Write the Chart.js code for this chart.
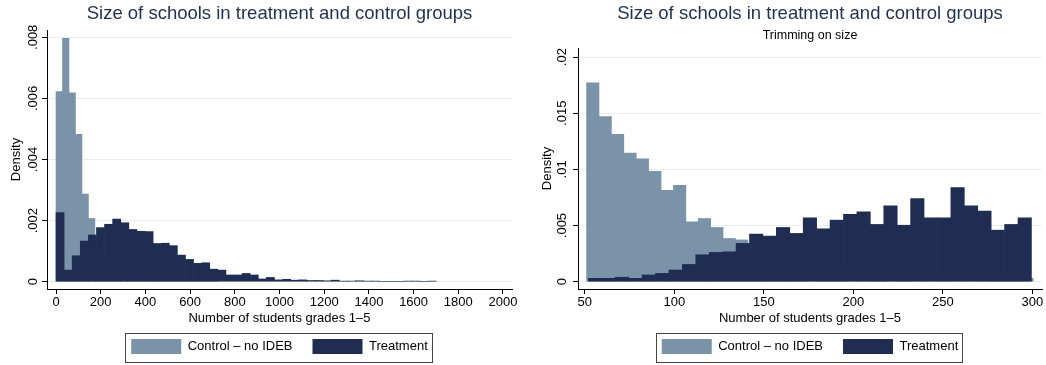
<!DOCTYPE html>
<html>
<head>
<meta charset="utf-8">
<script src="https://cdn.jsdelivr.net/npm/chart.js@4.4.0/dist/chart.umd.min.js"></script>
<style>
  html, body { margin: 0; padding: 0; background: #fff; }
  #wrap { display: flex; width: 1046px; height: 365px; }
  canvas { display: block; }
</style>
</head>
<body>
<div id="wrap">
  <canvas id="left" width="523" height="365"></canvas>
  <canvas id="right" width="523" height="365"></canvas>
</div>
<script>
/* ---- Histogram data (density per bin) ---- */

// Panel 1: all schools. Bins: treatment ~36.2 students wide, control ~29.
const bins1Treat = { start: 0, width: 36.2 };
const bins1Ctrl  = { start: 0, width: 29 };
const dens1Treat = [
  0.00226, 0.00038, 0.00085, 0.00133, 0.00153, 0.00177, 0.00188, 0.00205, 0.00193, 0.00171,
  0.00165, 0.00164, 0.00125, 0.00126, 0.00118, 0.00087, 0.00073, 0.00060, 0.00062, 0.00041,
  0.00038, 0.00022, 0.00022, 0.00027, 0.00022, 0.00009, 0.00014, 0.00006, 0.00008, 0.00005,
  0.00006, 0.00004, 0.00004, 0.00003, 0.00005, 0.00002, 0.00002, 0.00003, 0.00002, 0.00002,
  0, 0, 0, 0.00002, 0.00002, 0, 0.00002
];
const dens1Ctrl = [
  0.00622, 0.00797, 0.00618, 0.00482, 0.00287, 0.00207, 0.00120, 0.00080, 0.00060, 0.00045,
  0.00035, 0.00028, 0.00020, 0.00016, 0.00013, 0.00010, 0.00008, 0.00006, 0.00005, 0.00004,
  0.00003, 0.00003, 0.00002, 0.00002, 0.00002
];
const xTicks1  = [0, 200, 400, 600, 800, 1000, 1200, 1400, 1600, 1800, 2000];
const xLabels1 = ["0", "200", "400", "600", "800", "1000", "1200", "1400", "1600", "1800", "2000"];
const yTicks1  = [0, 0.002, 0.004, 0.006, 0.008];
const yLabels1 = ["0", ".002", ".004", ".006", ".008"];

// Panel 2: trimmed to 50–300 students. Bins: treatment 7.5 wide, control ~6.93.
const bins2Treat = { start: 52, width: 7.5 };
const bins2Ctrl  = { start: 51, width: 6.93 };
const dens2Treat = [
  0.0003, 0.0003, 0.0004, 0.0003, 0.0006, 0.00074, 0.00104, 0.00154, 0.0024, 0.00261,
  0.00266, 0.00341, 0.00424, 0.00406, 0.00483, 0.0043, 0.00568, 0.00471, 0.00548, 0.00601,
  0.00622, 0.0051, 0.00675, 0.00503, 0.0074, 0.00568, 0.00568, 0.00838, 0.00675, 0.00628,
  0.00459, 0.0051, 0.00568
];
const dens2Ctrl = [
  0.01771, 0.01471, 0.01312, 0.01146, 0.01093, 0.00983, 0.00814, 0.00859, 0.00533, 0.00563,
  0.00483, 0.00385, 0.00372, 0.0031, 0.0027, 0.0024, 0.0021, 0.0019, 0.0017, 0.0015,
  0.0014, 0.0012, 0.0011, 0.0010, 0.0009, 0.0008, 0.0008, 0.0007, 0.0006, 0.0006,
  0.0005, 0.0005, 0.0004, 0.0004, 0.0004, 0.0003
];
const xTicks2  = [50, 100, 150, 200, 250, 300];
const xLabels2 = ["50", "100", "150", "200", "250", "300"];
const yTicks2  = [0, 0.005, 0.01, 0.015, 0.02];
const yLabels2 = ["0", ".005", ".01", ".015", ".02"];

const TITLE    = "Size of schools in treatment and control groups";
const SUBTITLE = "Trimming on size";
const X_TITLE  = "Number of students grades 1–5";
const LBL_CTRL  = "Control – no IDEB";
const LBL_TREAT = "Treatment";

const CTRL_COLOR  = "#7b93a9";
const TREAT_COLOR = "#1f2d52";

Chart.defaults.font.family = "'Liberation Sans', Arial, Helvetica, sans-serif";
Chart.defaults.font.size = 13;
Chart.defaults.color = "#000";

// bins -> {x: bin centre, y: density}
function histPoints(bins, dens) {
  return dens.map((d, i) => ({ x: bins.start + bins.width * (i + 0.5), y: d }));
}

// Stata draws a framed legend; Chart.js does not, so add the frame here
const legendFrame = {
  id: "legendFrame",
  afterDraw(chart) {
    const hb = chart.legend && chart.legend.legendHitBoxes;
    if (!hb || !hb.length) return;
    const first = hb[0], last = hb[hb.length - 1];
    const l = Math.round(first.left - 6) + 0.5;
    const r = Math.round(last.left + last.width + 4) + 0.5;
    const t = Math.round(first.top - 6) + 0.5;
    const b = Math.round(first.top + first.height + 8) + 0.5;
    const ctx = chart.ctx;
    ctx.save();
    ctx.strokeStyle = "#444";
    ctx.lineWidth = 1;
    ctx.strokeRect(l, t, r - l, b - t);
    ctx.restore();
  }
};

function xScale(p, display) {
  return {
    type: "linear", position: "bottom", display, offset: false, bounds: "data",
    min: p.xMin, max: p.xMax,
    afterBuildTicks: s => { s.ticks = p.xTicks.map(v => ({ value: v })); },
    afterFit: s => { if (display) s.height = 30; s.paddingLeft = 0; s.paddingRight = 0; },
    grid: { offset: false, drawOnChartArea: false, tickLength: 5, tickColor: "#000" },
    border: { display: true, color: "#000", width: 1 },
    ticks: { padding: 1, color: "#000", maxRotation: 0, autoSkip: false,
             callback: (v, i) => p.xLabels[i] },
    title: { display: true, text: X_TITLE, color: "#000", padding: { top: 0, bottom: -6.8 } }
  };
}

function buildChart(id, p) {
  const titles = {
    title: {
      display: true, text: TITLE, fullSize: false, color: "#1f3050",
      font: { size: 18.5, weight: "normal" }, padding: p.titlePad
    },
    subtitle: {
      display: !!p.subtitle, text: p.subtitle || "", fullSize: false, color: "#000",
      font: { size: 12.5 }, padding: { top: 2, bottom: 4.5 }
    }
  };
  return new Chart(document.getElementById(id), {
    type: "bar",
    data: {
      datasets: [
        { label: LBL_CTRL, data: histPoints(p.binsCtrl, p.densCtrl), xAxisID: "xc",
          backgroundColor: CTRL_COLOR, borderWidth: 0, order: 1,
          barPercentage: 1, categoryPercentage: 1, grouped: false },
        { label: LBL_TREAT, data: histPoints(p.binsTreat, p.densTreat), xAxisID: "x",
          backgroundColor: TREAT_COLOR, borderWidth: 0, order: 0,
          barPercentage: 1, categoryPercentage: 1, grouped: false }
      ]
    },
    options: {
      responsive: false, animation: false, events: [], devicePixelRatio: 1,
      layout: { padding: p.layoutPad },
      plugins: {
        ...titles,
        tooltip: { enabled: false },
        legend: {
          position: "bottom", fullSize: false,
          labels: { boxWidth: 50, boxHeight: 15, padding: 20, color: "#000",
                    sort: (a, b) => a.datasetIndex - b.datasetIndex }
        }
      },
      scales: {
        x: xScale(p, true),
        xc: xScale(p, false),
        y: {
          min: p.yMin, max: p.yMax, bounds: "data",
          afterBuildTicks: s => { s.ticks = p.yTicks.map(v => ({ value: v })); },
          afterFit: s => { s.width = p.yWidth; s.paddingTop = 0; s.paddingBottom = 0; },
          grid: { color: "#e6eef1", lineWidth: 1, tickLength: 5, tickColor: "#000" },
          border: { display: true, color: "#000", width: 1 },
          ticks: { minRotation: 90, maxRotation: 90, crossAlign: "center", padding: p.yTickPad,
                   color: "#000", callback: (v, i) => p.yLabels[i] },
          title: { display: true, text: "Density", color: "#000", padding: { top: p.yTitlePad, bottom: 0 } }
        }
      }
    },
    plugins: [legendFrame]
  });
}

buildChart("left", {
  binsTreat: bins1Treat, densTreat: dens1Treat, binsCtrl: bins1Ctrl, densCtrl: dens1Ctrl,
  xTicks: xTicks1, xLabels: xLabels1, yTicks: yTicks1, yLabels: yLabels1,
  xMin: -40.3, xMax: 2040.3, yMin: -0.000239, yMax: 0.008239,
  yWidth: 47, yTickPad: -3.6, yTitlePad: 8.2,
  titlePad: { top: 2.9, bottom: 4.9 },
  layoutPad: { top: 0, left: 0, right: 11, bottom: 1 }
});

buildChart("right", {
  binsTreat: bins2Treat, densTreat: dens2Treat, binsCtrl: bins2Ctrl, densCtrl: dens2Ctrl,
  xTicks: xTicks2, xLabels: xLabels2, yTicks: yTicks2, yLabels: yLabels2, subtitle: SUBTITLE,
  xMin: 46.2, xMax: 305.4, yMin: -0.00065, yMax: 0.02081,
  yWidth: 55, yTickPad: -2.2, yTitlePad: 16.7,
  titlePad: { top: 3, bottom: 1.3 },
  layoutPad: { top: 0, left: 0, right: 4, bottom: 1 }
});
</script>
</body>
</html>
